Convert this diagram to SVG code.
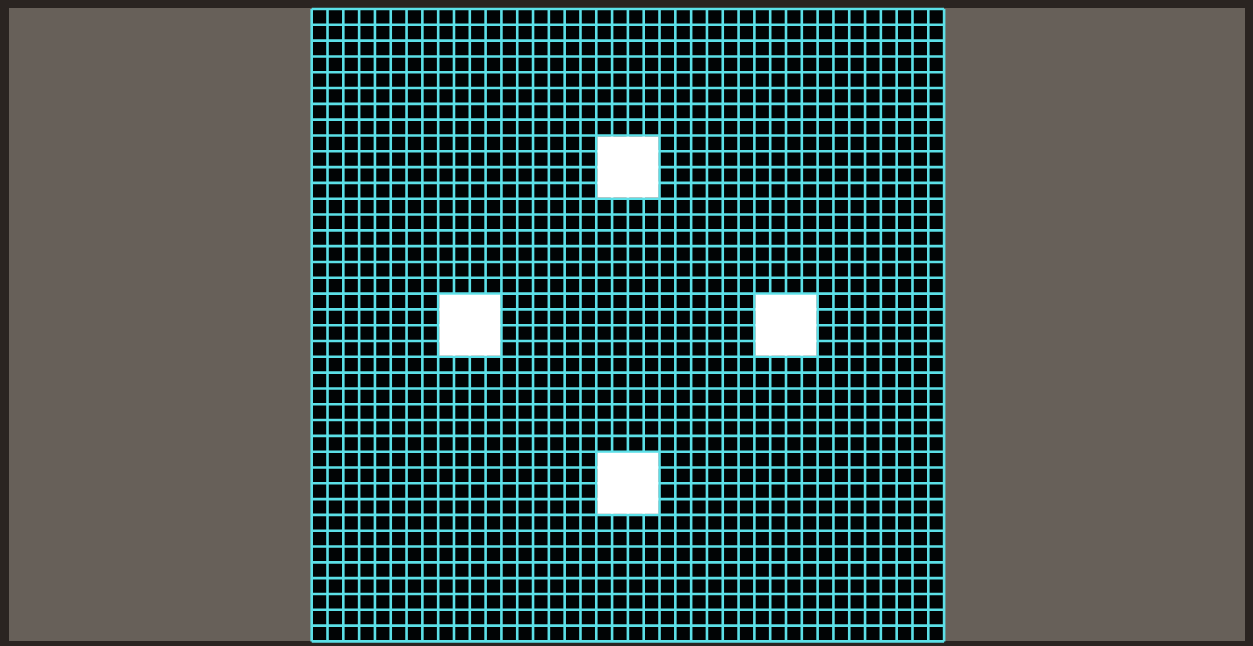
<svg xmlns="http://www.w3.org/2000/svg" width="1253" height="646" viewBox="0 0 1253 646">
  <defs>
    <style>
      .frame { fill: #2a2421; }
      .panel { fill: #676059; }
      .board { fill: #010405; }
      .grid { fill: none; stroke: #5ce0e8; stroke-width: 2.6; }
      .block { fill: #ffffff; }
    </style>
  </defs>
  <rect class="frame" x="0" y="0" width="1253" height="646"/>
  <rect class="panel" x="9" y="8" width="1236" height="633"/>
  <g id="board" transform="translate(311.7,9) scale(15.81)">
    <rect class="board" x="0" y="0" width="40" height="40"/>
    <path class="grid" vector-effect="non-scaling-stroke" d="M0 0V40M1 0V40M2 0V40M3 0V40M4 0V40M5 0V40M6 0V40M7 0V40M8 0V40M9 0V40M10 0V40M11 0V40M12 0V40M13 0V40M14 0V40M15 0V40M16 0V40M17 0V40M18 0V40M19 0V40M20 0V40M21 0V40M22 0V40M23 0V40M24 0V40M25 0V40M26 0V40M27 0V40M28 0V40M29 0V40M30 0V40M31 0V40M32 0V40M33 0V40M34 0V40M35 0V40M36 0V40M37 0V40M38 0V40M39 0V40M40 0V40M0 0H40M0 1H40M0 2H40M0 3H40M0 4H40M0 5H40M0 6H40M0 7H40M0 8H40M0 9H40M0 10H40M0 11H40M0 12H40M0 13H40M0 14H40M0 15H40M0 16H40M0 17H40M0 18H40M0 19H40M0 20H40M0 21H40M0 22H40M0 23H40M0 24H40M0 25H40M0 26H40M0 27H40M0 28H40M0 29H40M0 30H40M0 31H40M0 32H40M0 33H40M0 34H40M0 35H40M0 36H40M0 37H40M0 38H40M0 39H40M0 40H40"/>
    <g id="block-top"><rect class="block" x="18.07" y="8.07" width="3.86" height="3.86"/></g>
    <g id="block-left"><rect class="block" x="8.07" y="18.07" width="3.86" height="3.86"/></g>
    <g id="block-right"><rect class="block" x="28.07" y="18.07" width="3.86" height="3.86"/></g>
    <g id="block-bottom"><rect class="block" x="18.07" y="28.07" width="3.86" height="3.86"/></g>
  </g>
  <g id="connectors"></g>
</svg>
